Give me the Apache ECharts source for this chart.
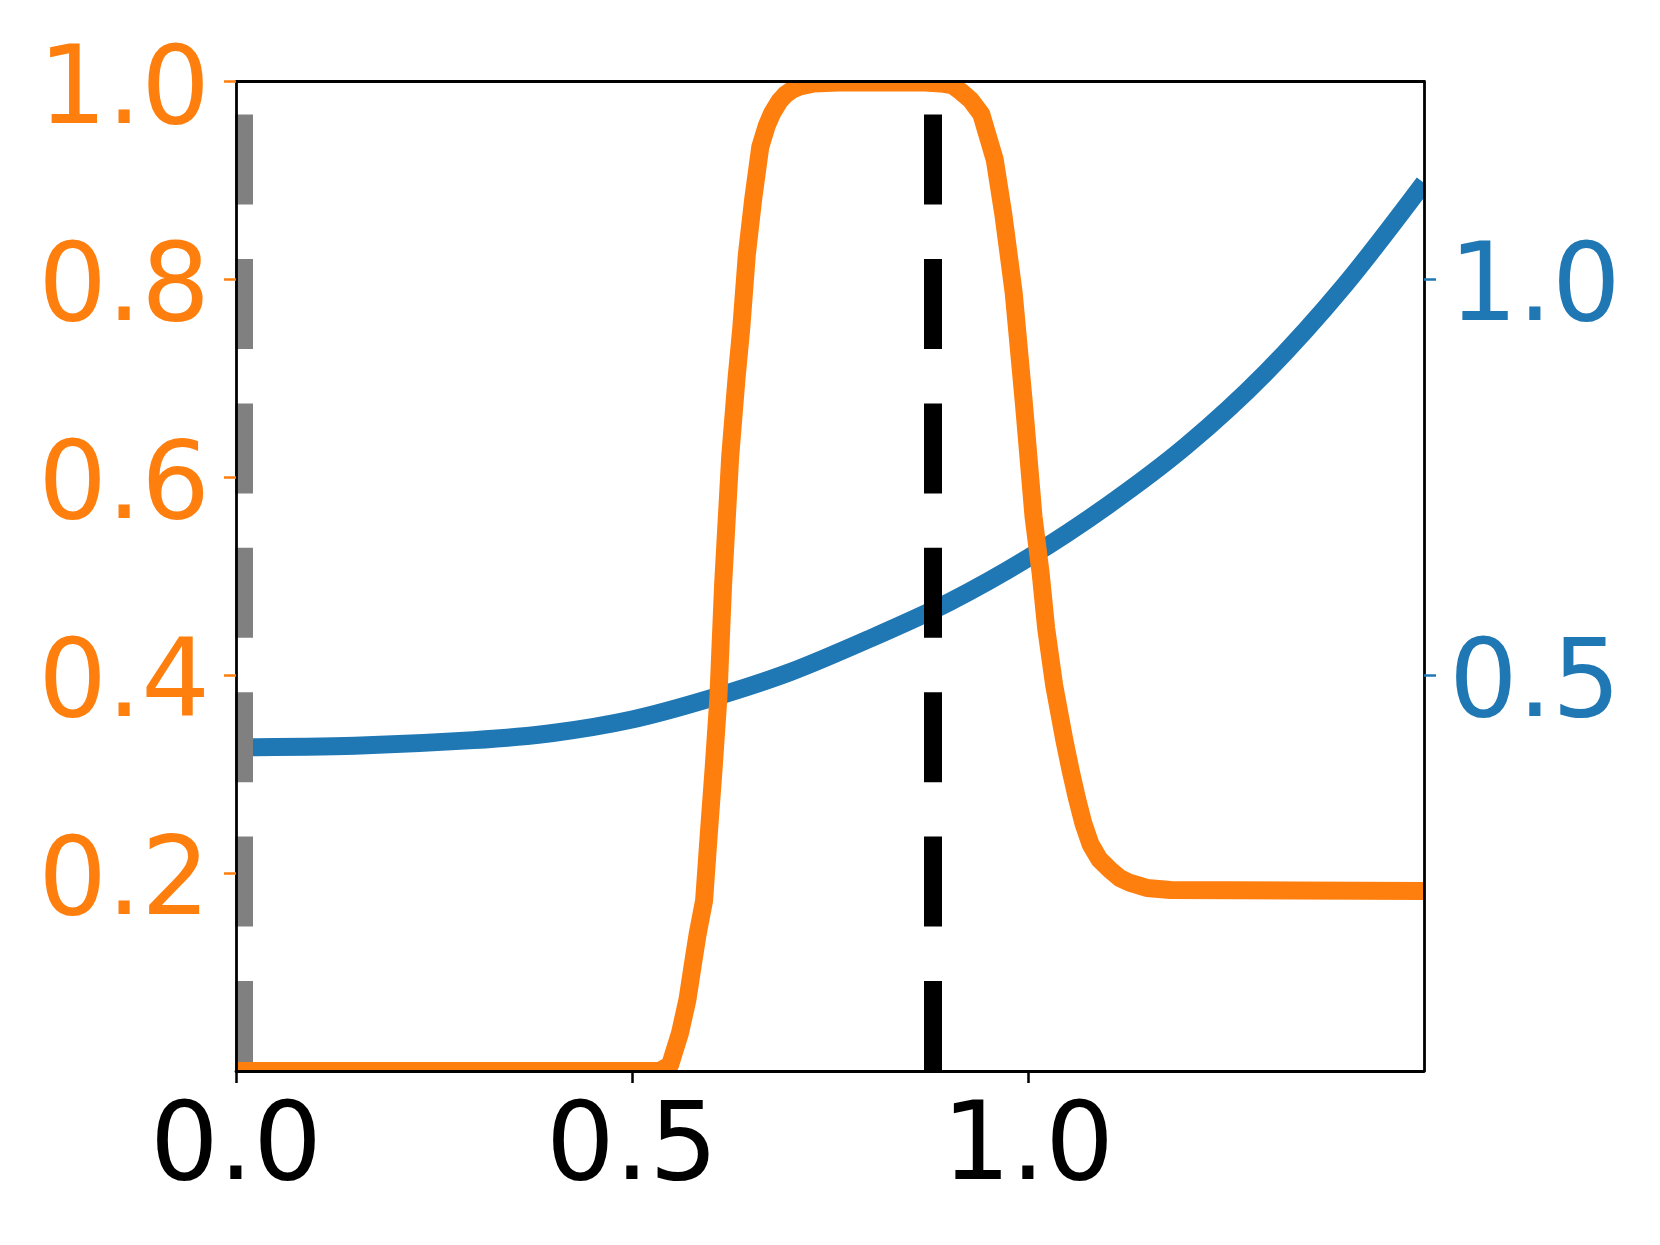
<!DOCTYPE html>
<html>
<head>
<meta charset="utf-8">
<script src="https://cdn.jsdelivr.net/npm/echarts@6/dist/echarts.min.js"></script>
<style>
html, body { margin: 0; padding: 0; background: #fff; }
#main { width: 1660px; height: 1245px; }
</style>
</head>
<body>
<div id="main"></div>
<script>
// orange profile (left axis)
var orangeX = [0, 0.535, 0.548, 0.5605, 0.570, 0.5765, 0.583, 0.591, 0.597, 0.603, 0.609, 0.615, 0.624, 0.632, 0.638, 0.645, 0.653, 0.662, 0.670, 0.677, 0.686, 0.694, 0.703, 0.712, 0.73, 0.76, 0.80, 0.87, 0.89, 0.905, 0.915, 0.928, 0.941, 0.958, 0.969, 0.982, 0.995, 1.007, 1.016, 1.023, 1.033, 1.046, 1.054, 1.062, 1.070, 1.079, 1.090, 1.104, 1.116, 1.129, 1.15, 1.18, 1.5];
var orangeY = [0, 0, 0.006, 0.038, 0.072, 0.106, 0.139, 0.172, 0.24, 0.305, 0.376, 0.491, 0.621, 0.70, 0.751, 0.825, 0.881, 0.934, 0.955, 0.968, 0.980, 0.987, 0.992, 0.995, 0.998, 0.999, 0.999, 0.999, 0.998, 0.996, 0.99, 0.981, 0.967, 0.921, 0.865, 0.786, 0.673, 0.560, 0.503, 0.447, 0.390, 0.334, 0.303, 0.275, 0.250, 0.229, 0.214, 0.203, 0.195, 0.190, 0.185, 0.183, 0.182];
// blue curve (right axis)
var blueX = [0, 0.15, 0.3, 0.4, 0.5, 0.6, 0.7, 0.8, 0.9, 1.0, 1.1, 1.2, 1.3, 1.4, 1.5];
var blueY = [0.409, 0.411, 0.418, 0.427, 0.444, 0.471, 0.504, 0.546, 0.592, 0.648, 0.714, 0.790, 0.882, 0.993, 1.122];
var xTicks = [0, 0.5, 1.0];
var leftTicks = [0.2, 0.4, 0.6, 0.8, 1.0];
var rightTicks = [0.5, 1.0];
var grayLineX = 0.0135;
var blackLineX = 0.88;

var ORANGE = '#ff7f0e';
var BLUE = '#1f77b4';
var FONT = 'DejaVu Sans';

function zip(xs, ys) {
    var out = [];
    for (var i = 0; i < xs.length; i++) {
        out.push([xs[i], ys[i]]);
    }
    return out;
}

function fmt(v) {
    return v.toFixed(1);
}

var myChart = echarts.init(document.getElementById('main'));

myChart.setOption({
    animation: false,
    backgroundColor: '#fff',
    grid: {left: 236, right: 236, top: 81.5, bottom: 174, outerBoundsMode: 'none'},
    xAxis: [
        {
            type: 'value', min: 0, max: 1.5, position: 'bottom', z: 10,
            splitLine: {show: false},
            axisLine: {show: true, onZero: false, lineStyle: {color: '#000', width: 2.8}},
            axisTick: {show: true, length: 12, customValues: xTicks, lineStyle: {color: '#000', width: 2.5}},
            axisLabel: {show: true, customValues: xTicks, formatter: fmt, margin: 26,
                fontFamily: FONT, fontSize: 108, color: '#000'}
        },
        {
            // top spine only
            type: 'value', min: 0, max: 1.5, position: 'top', z: 10,
            splitLine: {show: false},
            axisLine: {show: true, onZero: false, lineStyle: {color: '#000', width: 2.8}},
            axisTick: {show: false},
            axisLabel: {show: false}
        }
    ],
    yAxis: [
        {
            type: 'value', min: 0, max: 1, position: 'left', z: 10,
            splitLine: {show: false},
            axisLine: {show: true, onZero: false, lineStyle: {color: '#000', width: 2.8}},
            axisTick: {show: true, length: 12, customValues: leftTicks, lineStyle: {color: ORANGE, width: 2.5}},
            axisLabel: {show: true, customValues: leftTicks, formatter: fmt, margin: 26,
                verticalAlign: 'top', lineHeight: 26,
                fontFamily: FONT, fontSize: 108, color: ORANGE}
        },
        {
            type: 'value', min: 0, max: 1.25, position: 'right', z: 10,
            splitLine: {show: false},
            axisLine: {show: true, onZero: false, lineStyle: {color: '#000', width: 2.8}},
            axisTick: {show: true, length: 12, customValues: rightTicks, lineStyle: {color: BLUE, width: 2.5}},
            axisLabel: {show: true, customValues: rightTicks, formatter: fmt, margin: 25,
                verticalAlign: 'top', lineHeight: 26,
                fontFamily: FONT, fontSize: 108, color: BLUE}
        }
    ],
    // white strips outside the plot box, so thick lines look clipped at the spines
    graphic: [
        {type: 'rect', z: 7, silent: true, shape: {x: 0, y: 1072.4, width: 1660, height: 20}, style: {fill: '#fff'}},
        {type: 'rect', z: 7, silent: true, shape: {x: 0, y: 40, width: 1660, height: 40.1}, style: {fill: '#fff'}},
        {type: 'rect', z: 7, silent: true, shape: {x: 1425.4, y: 40, width: 20, height: 1050}, style: {fill: '#fff'}}
    ],
    series: [
        {
            name: 'blue', type: 'line', xAxisIndex: 0, yAxisIndex: 1, z: 2,
            data: zip(blueX, blueY),
            showSymbol: false, smooth: 0.3,
            lineStyle: {color: BLUE, width: 18},
            markLine: {
                silent: true, symbol: ['none', 'none'], z: 5,
                label: {show: false},
                lineStyle: {width: 18, type: [90, 54.4]},
                emphasis: {disabled: true},
                data: [
                    {xAxis: grayLineX, lineStyle: {color: '#808080', width: 18, type: [90, 54.4]}},
                    {xAxis: blackLineX, lineStyle: {color: '#000', width: 18, type: [90, 54.4]}}
                ]
            }
        },
        {
            name: 'orange', type: 'line', xAxisIndex: 0, yAxisIndex: 0, z: 6,
            data: zip(orangeX, orangeY),
            showSymbol: false, smooth: false,
            lineStyle: {color: ORANGE, width: 18, join: 'round'}
        }
    ]
});
</script>
</body>
</html>
